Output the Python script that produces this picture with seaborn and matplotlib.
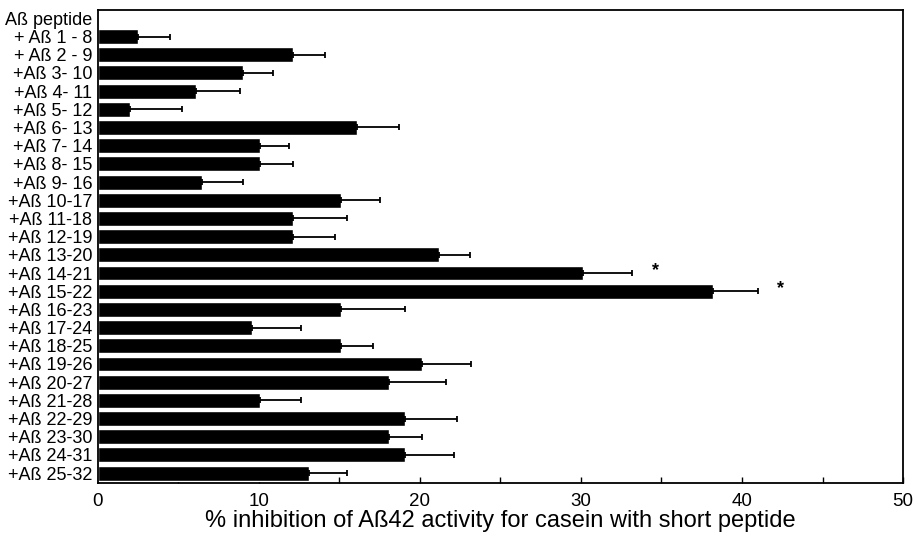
import numpy as np
import pandas as pd
import matplotlib
matplotlib.use("Agg")
import matplotlib.pyplot as plt
import seaborn as sns

labels = ["Aß peptide", "+ Aß 1 - 8", "+ Aß 2 - 9", "+Aß 3- 10", "+Aß 4- 11",
          "+Aß 5- 12", "+Aß 6- 13", "+Aß 7- 14", "+Aß 8- 15", "+Aß 9- 16",
          "+Aß 10-17", "+Aß 11-18", "+Aß 12-19", "+Aß 13-20", "+Aß 14-21",
          "+Aß 15-22", "+Aß 16-23", "+Aß 17-24", "+Aß 18-25", "+Aß 19-26",
          "+Aß 20-27", "+Aß 21-28", "+Aß 22-29", "+Aß 23-30", "+Aß 24-31",
          "+Aß 25-32"]
inhibition = [0, 2.5, 12.1, 9.0, 6.1, 2.0, 16.1, 10.1, 10.1, 6.5,
              15.1, 12.1, 12.1, 21.2, 30.1, 38.2, 15.1, 9.6, 15.1, 20.1,
              18.1, 10.1, 19.1, 18.1, 19.1, 13.1]
sd = [0, 2.0, 2.0, 1.9, 2.7, 3.2, 2.6, 1.8, 2.0, 2.5,
      2.4, 3.4, 2.6, 1.9, 3.1, 2.8, 4.0, 3.0, 2.0, 3.1,
      3.5, 2.5, 3.2, 2.0, 3.0, 2.4]
significant = ["+Aß 14-21", "+Aß 15-22"]

df = pd.DataFrame({"peptide": labels, "inhibition": inhibition, "sd": sd})

sns.set_style("white")
plt.rcParams["font.family"] = ["Liberation Sans", "DejaVu Sans"]
plt.rcParams["text.color"] = "black"
plt.rcParams["axes.labelcolor"] = "black"
plt.rcParams["xtick.color"] = "black"
plt.rcParams["ytick.color"] = "black"

fig = plt.figure(figsize=(9.14, 5.35), dpi=100)
ax = fig.add_axes([0.107, 0.097, 0.881, 0.884])

sns.barplot(data=df, y="peptide", x="inhibition", orient="h", color="black",
            saturation=1, width=0.82, errorbar=None, ax=ax)

pos = np.arange(len(labels))
has_err = df["sd"] > 0
ax.errorbar(df["inhibition"][has_err], pos[has_err],
            xerr=[np.zeros(has_err.sum()), df["sd"][has_err]],
            fmt="none", ecolor="black", elinewidth=1.3, capsize=2.5, capthick=1.3)

# significance stars
for name in significant:
    i = labels.index(name)
    ax.text(inhibition[i] + sd[i] + 1.4, i - 0.15, "*", ha="center", va="center",
            fontsize=13, fontweight="bold")

ax.set_xlim(0, 50)
ax.set_ylim(len(labels) - 0.45, -0.45)
ax.set_xticks(range(0, 51, 10))
ax.set_xticks(range(0, 51, 5), minor=True)
ax.tick_params(axis="x", which="both", bottom=True, direction="in", length=4,
               width=1, labelsize=13.5, pad=7)
ax.tick_params(axis="y", length=0, labelsize=13, pad=4)
ax.set_ylabel("")
ax.set_xlabel("% inhibition of Aß42 activity for casein with short peptide",
              fontsize=17, labelpad=0)
for s in ax.spines.values():
    s.set_visible(True)
    s.set_color("black")
    s.set_linewidth(1.3)

fig.savefig("out.png", dpi=100)
